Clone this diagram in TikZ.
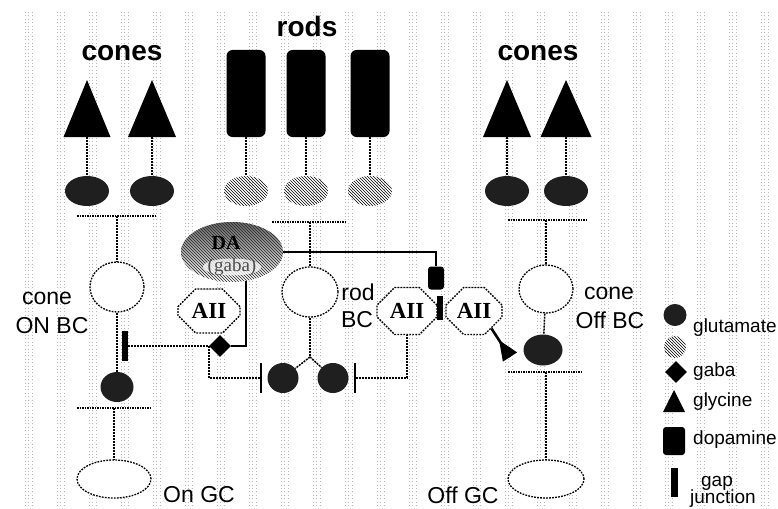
\documentclass[tikz,border=0pt]{standalone}
\usepackage{fontspec}
\setmainfont{Liberation Sans}
\newfontfamily\tnr{Liberation Serif}
\usetikzlibrary{shapes.geometric,shapes.misc,patterns,arrows.meta,calc}
\begin{document}
\begin{tikzpicture}[x=1pt,y=-1pt,
  bgdot/.style={draw=black!28, line width=0.8pt, dash pattern=on 0.8pt off 2.6pt},
  conn/.style={draw=black, line width=1.5pt, dash pattern=on 2pt off 1pt},
  synline/.style={draw=black, line width=1.2pt, dash pattern=on 1.5pt off 1pt},
  dapath/.style={draw=black, line width=2.5pt},
  cell/.style={ellipse, draw=black, line width=1.3pt, dash pattern=on 1.8pt off 1.2pt, fill=white, inner sep=0pt},
  glut/.style={ellipse, fill=black!88, inner sep=0pt},
  rglut/.style={ellipse, pattern=north west lines, pattern color=black, inner sep=0pt},
  rodbox/.style={rectangle, rounded corners=6pt, fill=black, minimum width=39pt, minimum height=87pt, inner sep=0pt},
  dopbox/.style={rectangle, rounded corners=3pt, fill=black, inner sep=0pt},
  gapbar/.style={rectangle, fill=black, minimum width=6pt, inner sep=0pt},
  gabadia/.style={diamond, fill=black, minimum width=22pt, minimum height=22pt, inner sep=0pt},
  postbar/.style={rectangle, draw=black, line width=1.2pt, dash pattern=on 1.5pt off 1pt, minimum width=0pt, minimum height=30pt, inner sep=0pt},
  aii/.style={chamfered rectangle, chamfered rectangle xsep=10pt, chamfered rectangle ysep=10pt, draw=black, line width=1.3pt, dash pattern=on 1.8pt off 1.2pt, fill=white, inner sep=0pt, minimum height=44pt, font=\tnr\bfseries\fontsize{23}{23}\selectfont},
  ttl/.style={font=\bfseries\fontsize{28}{30}\selectfont},
  lab/.style={font=\fontsize{23}{25}\selectfont, inner sep=0pt},
  leg/.style={font=\fontsize{19}{20}\selectfont, anchor=west, inner sep=0pt},
  pics/cone/.style n args={2}{code={\fill[black] (-#1/2,0) -- (0,-#2) -- (#1/2,0) -- cycle;}}
]
\useasboundingbox (0,0) rectangle (778,508);
\fill[white] (0,0) rectangle (778,508);
\foreach \c in {25,57,...,761} {
  \foreach \d in {0,3.5,7} {
    \draw[bgdot] (\c+\d,12) -- (\c+\d,506);
  }
}

% titles
\node[ttl] (tcl) at (122,53) {cones};
\node[ttl] (trod) at (307,26) {rods};
\node[ttl] (tcr) at (538,53) {cones};

% cone photoreceptors
\pic at (87,137) {cone={47}{57}};  \coordinate (cL1) at (87,137);
\pic at (152,137) {cone={48}{57}}; \coordinate (cL2) at (152,137);
\pic at (507,137) {cone={48}{57}}; \coordinate (cR1) at (507,137);
\pic at (566,137) {cone={51}{57}}; \coordinate (cR2) at (566,137);

% rod photoreceptors
\node[rodbox] (r1) at (246,93.5) {};
\node[rodbox] (r2) at (306,93.5) {};
\node[rodbox] (r3) at (370,93.5) {};

% photoreceptor terminals
\node[glut, minimum width=44pt, minimum height=30pt] (gL1) at (87,191) {};
\node[glut, minimum width=44pt, minimum height=30pt] (gL2) at (152,191) {};
\node[glut, minimum width=44pt, minimum height=30pt] (gR1) at (507,191) {};
\node[glut, minimum width=44pt, minimum height=30pt] (gR2) at (566,191) {};
\node[rglut, minimum width=44pt, minimum height=30pt] (rg1) at (246,191) {};
\node[rglut, minimum width=44pt, minimum height=30pt] (rg2) at (306,191) {};
\node[rglut, minimum width=44pt, minimum height=30pt] (rg3) at (370,191) {};

% postsynaptic lines
\draw[synline] (77,216) -- (155,216);  \coordinate (sL) at (117,216);
\draw[synline] (272,222) -- (347,222); \coordinate (sRod) at (310,222);
\draw[synline] (508,220) -- (586,220); \coordinate (sR) at (546,220);

% bipolar cells
\node[cell, minimum width=54pt, minimum height=50pt] (onbc) at (117,287) {};
\node[cell, minimum width=56pt, minimum height=50pt] (rodbc) at (310,292) {};
\node[cell, minimum width=54pt, minimum height=48pt] (offbc) at (546,289) {};

% DA amacrine cell
\node[ellipse, minimum width=102pt, minimum height=60pt, inner sep=0pt,
      top color=black!60, bottom color=white,
      postaction={pattern=north west lines, pattern color=black!85}] (da) at (232,252) {};
\node[ellipse, fill=white, fill opacity=0.75, minimum width=58pt, minimum height=17pt, inner sep=0pt] (gbk) at (232,267) {};
\node[font=\tnr\bfseries\fontsize{20}{20}\selectfont, inner sep=0pt] (datxt) at (226,243) {DA};
\node[font=\tnr\fontsize{19}{19}\selectfont, text=black!70, inner sep=0pt] (gabatxt) at (232,267) {(gaba)};

% AII amacrine cells
\node[aii, minimum width=62pt] (aiiL) at (209,311) {AII};
\node[aii, minimum width=60pt, minimum height=47pt] (aiiM) at (407,311) {AII};
\node[aii, minimum width=56pt, minimum height=47pt] (aiiR) at (474,311) {AII};

% dopamine, gap junctions, gaba synapse
\node[dopbox, minimum width=16pt, minimum height=23pt] (dop) at (436,278) {};
\node[gapbar, minimum height=24pt] (gjM) at (440,308) {};
\node[gapbar, minimum height=30pt] (gjL) at (125,346) {};
\node[gabadia] (dia) at (220,346) {};

% output terminals
\node[glut, minimum width=33pt, minimum height=30pt] (gOn) at (117,387) {};
\node[glut, minimum width=39pt, minimum height=31pt] (gOff) at (543,350) {};
\node[glut, minimum width=31pt, minimum height=30pt] (gRodL) at (283,378) {};
\node[glut, minimum width=31pt, minimum height=30pt] (gRodR) at (333,378) {};
\node[postbar] (pbL) at (261,378) {};
\node[postbar] (pbR) at (355,378) {};
\coordinate (rbr) at (310,357);

\draw[synline] (77,408) -- (150,408);  \coordinate (sOn) at (114,408);
\draw[synline] (508,372) -- (583,372); \coordinate (sOff) at (546,372);

% ganglion cells
\node[cell, minimum width=74pt, minimum height=38pt] (ongc) at (114,479) {};
\node[cell, minimum width=76pt, minimum height=38pt] (offgc) at (546,479) {};

% connectors
\draw[conn] (cL1) -- (gL1);
\draw[conn] (cL2) -- (gL2);
\draw[conn] (cR1) -- (gR1);
\draw[conn] (cR2) -- (gR2);
\draw[conn] (r1) -- (rg1);
\draw[conn] (r2) -- (rg2);
\draw[conn] (r3) -- (rg3);
\draw[conn] (sL) -- (onbc);
\draw[conn] (sRod) -- (rodbc);
\draw[conn] (sR) -- (offbc);
\draw[conn] (onbc) -- (gOn);
\draw[conn] (sOn) -- (ongc);
\draw[conn] (offbc) -- (gOff);
\draw[conn] (sOff) -- (offgc);
\draw[conn] (rodbc) -- (rbr);
\draw[conn] (rbr) -- (gRodL);
\draw[conn] (rbr) -- (gRodR);
\draw[dapath] (da.east) -| (dop.north);
\draw[dapath] ($(da.south)+(14,-1.5)$) |- (dia.east);
\draw[conn] (gjL) -- (dia.west);
\draw[conn] (dia.west) |- (pbL);
\draw[conn] (pbR) -| (aiiM.south);
% glycine synapse onto the Off bipolar terminal
\coordinate (glyEnd) at (510,357);
\draw[line width=2.6pt] (aiiR.-45) -- (glyEnd);
\fill[black] ($(glyEnd)!20pt!(aiiR.-45)$) -- ($(glyEnd)!8.5pt!90:(aiiR.-45)$) -- ($(glyEnd)!8.5pt!-90:(aiiR.-45)$) -- cycle;

% labels
\node[lab] (lcone1) at (47,298) {cone};
\node[lab] (lon) at (52,326) {ON BC};
\node[lab] (lrod) at (358,292) {rod};
\node[lab] (lrbc) at (357,320) {BC};
\node[lab] (lcone2) at (609,293) {cone};
\node[lab] (loff) at (610,320) {Off BC};
\node[lab] (longc) at (199,495) {On GC};
\node[lab] (loffgc) at (463,495) {Off GC};

% legend
\node[glut, minimum width=23pt, minimum height=22pt] (lg1) at (675,315) {};
\node[rglut, minimum width=22pt, minimum height=22pt] (lg2) at (675,347) {};
\node[gabadia] (lg3) at (676,372) {};
\pic at (674,412) {cone={22}{22}}; \coordinate (lg4) at (674,412);
\node[dopbox, minimum width=22pt, minimum height=28pt] (lg5) at (674,441) {};
\node[gapbar, minimum width=7pt, minimum height=29pt] (lg6) at (674,482) {};
\node[leg] (lt1) at (693,328) {glutamate};
\node[leg] (lt3) at (693,372) {gaba};
\node[leg] (lt4) at (693,402) {glycine};
\node[leg] (lt5) at (693,440) {dopamine};
\node[font=\fontsize{19}{20}\selectfont, inner sep=0pt] (lt6) at (717,483) {gap};
\node[leg] (lt7) at (690,499) {junction};
\end{tikzpicture}
\end{document}
